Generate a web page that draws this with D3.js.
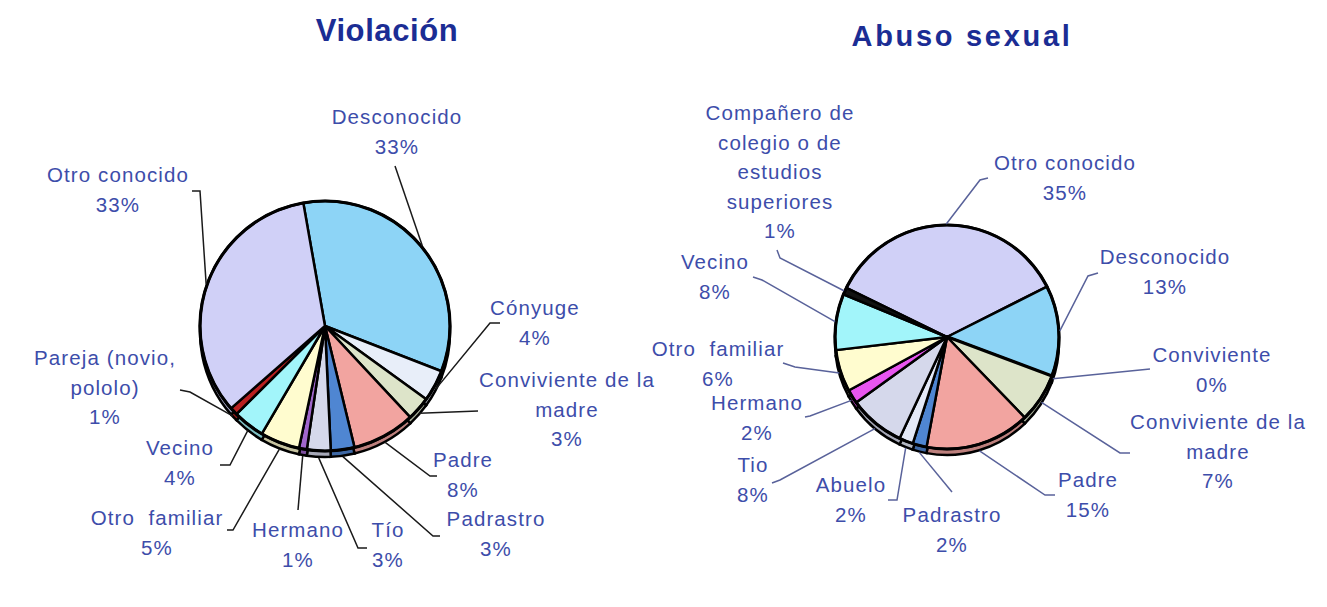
<!DOCTYPE html>
<html>
<head>
<meta charset="utf-8">
<script src="https://cdn.jsdelivr.net/npm/d3@7"></script>
<style>
  body { margin: 0; background: #fff; }
  text { font-family: Arial, "Liberation Sans", sans-serif; }
</style>
</head>
<body>
<div id="chart"></div>
<script>
// Violación
const violCats = ["Desconocido", "Cónyuge", "Conviviente de la\nmadre", "Padre", "Padrastro", "Tío",
  "Hermano", "Otro  familiar", "Vecino", "Pareja (novio,\npololo)", "Otro conocido"];
const violVals = [33, 4, 3, 8, 3, 3, 1, 5, 4, 1, 33];
const violColors = ["#8dd4f6", "#e8eef9", "#dde4c9", "#f2a4a0", "#4f86d2", "#d5d8eb",
  "#a066cc", "#fffccf", "#a2f5fa", "#b82020", "#d0d0f7"];

// Abuso sexual
const abusoCats = ["Otro conocido", "Desconocido", "Conviviente", "Conviviente de la\nmadre", "Padre",
  "Padrastro", "Abuelo", "Tio", "Hermano", "Otro  familiar", "Vecino",
  "Compañero de\ncolegio o de\nestudios\nsuperiores"];
const abusoVals = [35, 13, 0, 7, 15, 2, 2, 8, 2, 6, 8, 1];
const abusoColors = ["#d0d0f7", "#8dd4f6", "#222222", "#dde4c9", "#f2a4a0", "#4f86d2",
  "#e4e9f7", "#d5d8eb", "#e855f0", "#fffccf", "#a2f5fa", "#111111"];

const W = 1327, H = 607;
const svg = d3.select("#chart").append("svg").attr("width", W).attr("height", H);

// label anchors (x, first baseline) and leader points [label end, elbow]
const violLayout = [
  {x: 397, y: 124, lead: [[395, 166], [395, 166]]},
  {x: 535, y: 315, lead: [[500, 323], [490, 323]]},
  {x: 567, y: 387, lead: [[478, 411], [478, 411]]},
  {x: 463, y: 467, lead: [[437, 476], [430, 476]]},
  {x: 496, y: 526, lead: [[440, 536], [433, 536]]},
  {x: 388, y: 537, lead: [[367, 548], [358, 548]]},
  {x: 298, y: 537, lead: [[298, 510], [298, 510]]},
  {x: 157, y: 525, lead: [[227, 530], [233, 530]]},
  {x: 180, y: 455, lead: [[220, 465], [230, 465]]},
  {x: 105, y: 365, lead: [[180, 390], [190, 392]]},
  {x: 118, y: 182, lead: [[192, 191], [200, 191]]}
];
const abusoLayout = [
  {x: 1065, y: 170, lead: [[988, 178], [980, 180]]},
  {x: 1165, y: 264, lead: [[1098, 273], [1088, 276]]},
  {x: 1212, y: 362, lead: [[1150, 369], [1140, 370]]},
  {x: 1218, y: 429, lead: [[1130, 453], [1120, 453]]},
  {x: 1088, y: 487, lead: [[1055, 495], [1045, 495]]},
  {x: 952, y: 522, lead: [[952, 492], [952, 492]]},
  {x: 851, y: 492, lead: [[888, 500], [897, 500]]},
  {x: 753, y: 472, lead: [[772, 483], [780, 480]]},
  {x: 757, y: 410, lead: [[805, 417], [810, 416]]},
  {x: 718, y: 356, lead: [[783, 363], [795, 367]]},
  {x: 715, y: 269, lead: [[753, 277], [762, 280]]},
  {x: 780, y: 120, lead: [[777, 250], [780, 258]]}
];

function drawPie(opt) {
  const data = opt.cats.map((c, i) => ({cat: c, value: opt.vals[i], color: opt.colors[i], lay: opt.layout[i]}));
  const a0 = opt.start * Math.PI / 180;
  const pie = d3.pie().sort(null).value(d => d.value).startAngle(a0).endAngle(a0 + 2 * Math.PI);
  const arcs = pie(data);
  const arc = d3.arc().innerRadius(0).outerRadius(opt.r);

  // title
  svg.append("text")
    .attr("x", opt.tx).attr("y", opt.ty)
    .attr("text-anchor", "middle")
    .attr("font-size", opt.tsize).attr("font-weight", "bold")
    .attr("letter-spacing", opt.tspace)
    .attr("fill", "#1b2d94")
    .text(opt.title);

  // side of the pie (slight 3D rim)
  const side = svg.append("g").attr("transform", `translate(${opt.cx},${opt.cy + opt.depth})`);
  side.selectAll("path").data(arcs).enter().append("path")
    .attr("d", arc)
    .attr("fill", d => d3.color(d.data.color).darker(0.7))
    .attr("stroke", "#000").attr("stroke-width", 2.5);

  const g = svg.append("g").attr("transform", `translate(${opt.cx},${opt.cy})`);
  g.selectAll("path").data(arcs).enter().append("path")
    .attr("d", arc)
    .attr("fill", d => d.data.color)
    .attr("stroke", "#000")
    .attr("stroke-width", d => d.value === 0 ? 4 : 2.5)
    .attr("stroke-linejoin", "round");
  g.append("circle").attr("r", opt.r).attr("fill", "none").attr("stroke", "#000").attr("stroke-width", 3.2);

  // leaders
  arcs.forEach(d => {
    const m = (d.startAngle + d.endAngle) / 2;
    let px = opt.cx + (opt.r + 1) * Math.sin(m);
    let py = opt.cy - (opt.r + 1) * Math.cos(m);
    if (Math.cos(m) < 0) py += opt.depth * (-Math.cos(m));
    const pts = [d.data.lay.lead[0], d.data.lay.lead[1], [px, py]];
    svg.append("path")
      .attr("d", d3.line()(pts))
      .attr("fill", "none")
      .attr("stroke", opt.leadColor).attr("stroke-width", 1.5);
  });

  // labels
  arcs.forEach(d => {
    const lines = d.data.cat.split("\n").concat([d.data.value + "%"]);
    const t = svg.append("text")
      .attr("x", d.data.lay.x).attr("y", d.data.lay.y)
      .attr("text-anchor", "middle")
      .attr("font-size", 20.5).attr("letter-spacing", 1.1)
      .attr("fill", "#3d4daa")
      .style("white-space", "pre");
    lines.forEach((l, i) => {
      t.append("tspan").attr("x", d.data.lay.x).attr("dy", i === 0 ? 0 : 29.5).text(l);
    });
  });
}

drawPie({cats: violCats, vals: violVals, colors: violColors, layout: violLayout,
  cx: 325, cy: 326, r: 125, depth: 6, start: -10,
  title: "Violación", tx: 387, ty: 41, tsize: 31, tspace: 0.6, leadColor: "#1a1a1a"});

drawPie({cats: abusoCats, vals: abusoVals, colors: abusoColors, layout: abusoLayout,
  cx: 947, cy: 337, r: 112, depth: 6, start: -64,
  title: "Abuso sexual", tx: 962, ty: 46, tsize: 29, tspace: 2.7, leadColor: "#59629a"});
</script>
</body>
</html>
